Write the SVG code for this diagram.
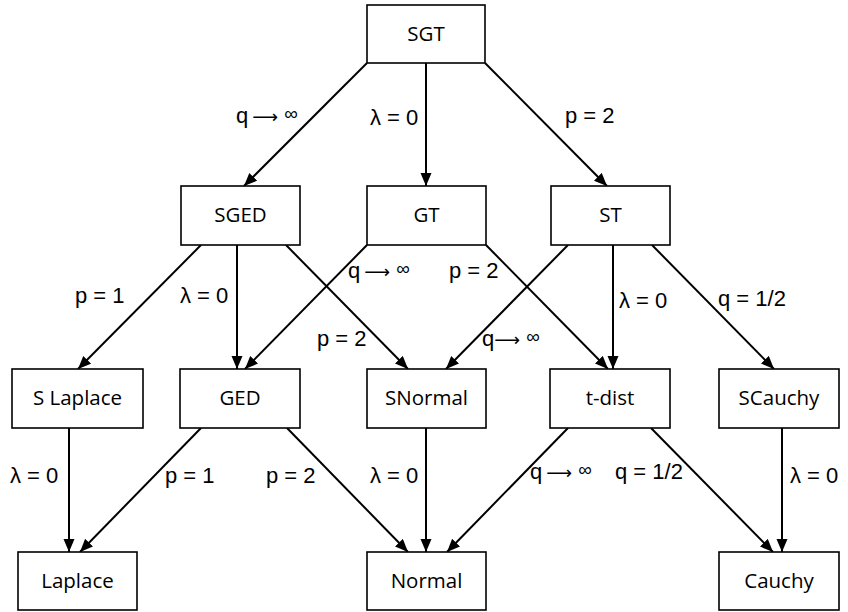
<svg xmlns="http://www.w3.org/2000/svg" width="848" height="612" viewBox="0 0 848 612">
<style>
.box{fill:#fff;stroke:#000;stroke-width:1.6}
.nt{font-family:"Open Sans",sans-serif;font-size:20.5px;fill:#000;text-anchor:middle}
.e{stroke:#000;stroke-width:2;fill:none;marker-end:url(#ah)}
.lb{font-family:"Liberation Sans",Arial,sans-serif;font-size:22px;fill:#000}
.ar{font-family:"DejaVu Sans",sans-serif;font-size:18px}
.inf{font-size:19px}
</style>
<defs>
<marker id="ah" markerUnits="userSpaceOnUse" markerWidth="14" markerHeight="12" refX="13" refY="5.5" orient="auto">
<path d="M0,0 L13,5.5 L0,11 z" fill="#000"/>
</marker>
</defs>
<rect width="848" height="612" fill="#fff"/>
<g id="connectors">
<line class="e" x1="367" y1="63" x2="244" y2="186"/>
<line class="e" x1="426" y1="63" x2="426" y2="186"/>
<line class="e" x1="485" y1="63" x2="607" y2="186"/>
<line class="e" x1="201" y1="245" x2="78" y2="369"/>
<line class="e" x1="237" y1="245" x2="237" y2="369"/>
<line class="e" x1="286" y1="245" x2="408" y2="369"/>
<line class="e" x1="367" y1="245" x2="245" y2="369"/>
<line class="e" x1="486" y1="245" x2="608" y2="369"/>
<line class="e" x1="568" y1="245" x2="446" y2="369"/>
<line class="e" x1="613" y1="245" x2="613" y2="369"/>
<line class="e" x1="652" y1="245" x2="774" y2="369"/>
<line class="e" x1="69" y1="428" x2="69" y2="552"/>
<line class="e" x1="201" y1="428" x2="80" y2="552"/>
<line class="e" x1="287" y1="428" x2="408" y2="552"/>
<line class="e" x1="426" y1="428" x2="426" y2="552"/>
<line class="e" x1="568" y1="428" x2="447" y2="552"/>
<line class="e" x1="651" y1="428" x2="773" y2="552"/>
<line class="e" x1="782" y1="428" x2="782" y2="552"/>
</g>
<g id="labels">
<text class="lb" x="236" y="123">q<tspan class="ar" dx="4">⟶</tspan> <tspan class="inf" dy="-3">∞</tspan></text>
<text class="lb" x="370" y="125">λ = 0</text>
<text class="lb" x="565" y="123">p = 2</text>
<text class="lb" x="75" y="303">p = 1</text>
<text class="lb" x="180" y="303">λ = 0</text>
<text class="lb" x="348" y="278">q<tspan class="ar" dx="4">⟶</tspan> <tspan class="inf" dy="-3">∞</tspan></text>
<text class="lb" x="449" y="278">p = 2</text>
<text class="lb" x="317" y="346">p = 2</text>
<text class="lb" x="482" y="346">q<tspan class="ar">⟶</tspan> <tspan class="inf" dy="-3">∞</tspan></text>
<text class="lb" x="619" y="308">λ = 0</text>
<text class="lb" x="718" y="306">q = 1/2</text>
<text class="lb" x="10" y="483">λ = 0</text>
<text class="lb" x="165" y="483">p = 1</text>
<text class="lb" x="266" y="483">p = 2</text>
<text class="lb" x="370" y="483">λ = 0</text>
<text class="lb" x="530" y="479">q<tspan class="ar" dx="4">⟶</tspan> <tspan class="inf" dy="-3">∞</tspan></text>
<text class="lb" x="615" y="479">q = 1/2</text>
<text class="lb" x="790" y="483">λ = 0</text>
</g>
<g id="n-sgt"><rect class="box" x="367" y="5" width="118" height="58"/><text class="nt" x="426" y="41">SGT</text></g>
<g id="n-sged"><rect class="box" x="181" y="186" width="119" height="59"/><text class="nt" x="240.5" y="222">SGED</text></g>
<g id="n-gt"><rect class="box" x="367" y="186" width="119" height="59"/><text class="nt" x="426.5" y="222">GT</text></g>
<g id="n-st"><rect class="box" x="551" y="186" width="119" height="59"/><text class="nt" x="610.5" y="222">ST</text></g>
<g id="n-slaplace"><rect class="box" x="12" y="369" width="131" height="59"/><text class="nt" x="77.5" y="405">S Laplace</text></g>
<g id="n-ged"><rect class="box" x="180" y="369" width="120" height="59"/><text class="nt" x="240" y="405">GED</text></g>
<g id="n-snormal"><rect class="box" x="367" y="369" width="119" height="59"/><text class="nt" x="426.5" y="405">SNormal</text></g>
<g id="n-tdist"><rect class="box" x="550" y="369" width="120" height="59"/><text class="nt" x="610" y="405">t-dist</text></g>
<g id="n-scauchy"><rect class="box" x="719" y="369" width="120" height="59"/><text class="nt" x="779" y="405">SCauchy</text></g>
<g id="n-laplace"><rect class="box" x="18" y="552" width="119" height="58"/><text class="nt" x="77.5" y="588">Laplace</text></g>
<g id="n-normal"><rect class="box" x="367" y="552" width="119" height="58"/><text class="nt" x="426.5" y="588">Normal</text></g>
<g id="n-cauchy"><rect class="box" x="719" y="552" width="120" height="58"/><text class="nt" x="779" y="588">Cauchy</text></g>
</svg>
